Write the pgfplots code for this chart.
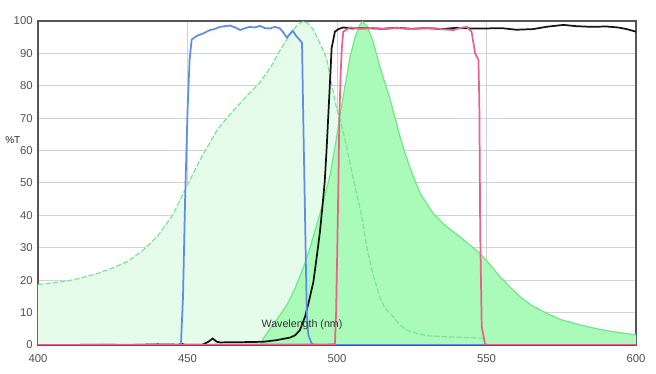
\documentclass[border=0pt]{standalone}
\usepackage{pgfplots}
\pgfplotsset{compat=1.18}
\usepackage{fontspec}
\setmainfont{Liberation Sans}
\definecolor{exfill}{RGB}{230,252,234}
\definecolor{exline}{RGB}{125,228,150}
\definecolor{emfill}{RGB}{170,250,186}
\definecolor{emline}{RGB}{112,230,135}
\definecolor{cblue}{RGB}{95,140,230}
\definecolor{cpink}{RGB}{232,98,140}
\definecolor{cblack}{RGB}{20,20,20}
\definecolor{frame}{RGB}{85,85,85}
\definecolor{ticktext}{RGB}{80,80,80}
\begin{document}
\begin{tikzpicture}
\path[use as bounding box] (-28.5pt,-21.75pt) rectangle (463.5pt,258.75pt);
\begin{axis}[
  at={(0,0)}, anchor=south west,
  scale only axis, width=448.5pt, height=243pt,
  xmin=400, xmax=600, ymin=0, ymax=100,
  xtick={400,450,500,550,600},
  ytick={0,10,...,100},
  major tick length=0pt,
  xmajorgrids, ymajorgrids,
  grid style={draw=black!18, line width=0.75pt},
  axis line style={draw=frame, line width=1.5pt},
  ticklabel style={font=\fontsize{8.5}{10}\selectfont, text=ticktext},
  /pgf/number format/assume math mode=true,
  yticklabel style={xshift=-0.5pt},
  xticklabel style={yshift=-3.5pt},
  clip=true,
]
% excitation fill
\addplot[fill=exfill, draw=none] coordinates {
(400,18.7) (405,19.2) (410,19.8) (415,20.8) (420,22.1) (425,23.8) (430,25.8) (435,29.1) (440,33.6) (445,40.0) (450,49.5) (455,58.5) (460,66.5) (465,72) (470,77) (474,80.8) (478,86) (481,91) (483,94) (485.4,97.2) (487,99) (488.7,99.8) (490,99.5) (492,97.5) (494.3,93.1) (496.5,88.5) (497.7,82.8) (500,72.5) (501,70) (503,62) (505.5,51) (508,41) (510,30) (512,22) (514.4,14.5) (516,11.5) (518.8,8.7) (521,6.3) (523.3,4.6) (527,3.5) (531,2.8) (540,2.4) (548.8,2.1)
} \closedcycle;
% emission fill
\addplot[fill=emfill, draw=none] coordinates {
(474.5,0) (475.4,2) (478,5.5) (480,8) (483.2,12.3) (486,17.5) (488.7,23.7) (491,30) (493.2,37) (495.5,44.5) (497.7,52.5) (499.5,62) (501,71) (502.7,80) (504.3,88.5) (506,95) (507.7,98.8) (508.5,99.8) (510,98.5) (512.1,93.6) (514,87) (516,81) (517.7,76) (521.1,64.3) (523,58.5) (525.5,52) (528,46.5) (532.2,40.6) (536,37) (541.1,33.4) (547.8,28.3) (551,25) (554.5,21.1) (558,17.8) (561.2,14.9) (565,12.3) (570.1,9.8) (575,7.8) (581.3,6.2) (587,5) (592.4,4.1) (600,3.1)
} \closedcycle;
% excitation line
\addplot[draw=exline, line width=0.9pt, dash pattern=on 4pt off 1.5pt] coordinates {
(400,18.7) (405,19.2) (410,19.8) (415,20.8) (420,22.1) (425,23.8) (430,25.8) (435,29.1) (440,33.6) (445,40.0) (450,49.5) (455,58.5) (460,66.5) (465,72) (470,77) (474,80.8) (478,86) (481,91) (483,94) (485.4,97.2) (487,99) (488.7,99.8) (490,99.5) (492,97.5) (494.3,93.1) (496.5,88.5) (497.7,82.8) (500,72.5) (501,70) (503,62) (505.5,51) (508,41) (510,30) (512,22) (514.4,14.5) (516,11.5) (518.8,8.7) (521,6.3) (523.3,4.6) (527,3.5) (531,2.8) (540,2.4) (548.8,2.1)
};
% emission line
\addplot[draw=emline, line width=0.9pt] coordinates {
(474.5,0) (475.4,2) (478,5.5) (480,8) (483.2,12.3) (486,17.5) (488.7,23.7) (491,30) (493.2,37) (495.5,44.5) (497.7,52.5) (499.5,62) (501,71) (502.7,80) (504.3,88.5) (506,95) (507.7,98.8) (508.5,99.8) (510,98.5) (512.1,93.6) (514,87) (516,81) (517.7,76) (521.1,64.3) (523,58.5) (525.5,52) (528,46.5) (532.2,40.6) (536,37) (541.1,33.4) (547.8,28.3) (551,25) (554.5,21.1) (558,17.8) (561.2,14.9) (565,12.3) (570.1,9.8) (575,7.8) (581.3,6.2) (587,5) (592.4,4.1) (600,3.1)
};
% black
\addplot[draw=cblack, line width=1.3pt] coordinates {
(400,0) (410,0) (420,0.1) (430,0) (440,0.2) (447,0.1) (448,0.4) (449,0.1) (455,0.1) (457,1) (458.4,2) (459.8,1) (461,0.8) (470,0.9) (475.4,1) (479.8,1.5) (484.3,2.3) (486,3) (487.6,4.6) (489.3,8.7) (490.5,13) (492.1,19.5) (493.2,27) (494.3,35) (495.1,42.5) (495.9,50.4) (496.5,60) (497.1,71) (497.7,82) (498.2,91.6) (499.3,96.7) (500.5,97.5) (502.1,98) (505,97.7) (510,97.8) (515,97.6) (520,97.9) (525,97.6) (530,97.8) (535,97.5) (540,97.9) (545,97.7) (550,97.7) (555,97.8) (560,97.3) (565.6,97.5) (570,98.2) (575.7,98.8) (580,98.4) (585,98.2) (590.2,98.3) (594,98) (596.9,97.5) (600,96.7)
};
% blue
\addplot[draw=cblue, line width=1.3pt] coordinates {
(400,0) (447.8,0) (448.5,15) (449.2,45) (450,72) (450.7,88) (451.4,94.3) (453.1,95.4) (455.3,96.2) (457.5,97.2) (459,97.5) (460.9,98.2) (462.5,98.4) (464.2,98.6) (466,98) (467.6,97.2) (469.3,97.8) (470.9,98.2) (472.5,98) (474.2,98.5) (475.9,97.8) (477.6,97.7) (479.3,98.2) (480.9,97.7) (482,96.5) (483.2,94.9) (485.2,97) (486.5,95.2) (487.6,94.1) (488.3,93.3) (488.7,71) (489.3,40) (489.9,9.3) (490.4,3.1) (491.5,0.5) (492.5,0) (600,0)
};
% pink
\addplot[draw=cpink, line width=1.3pt] coordinates {
(400,0) (499.3,0.2) (499.7,10) (500.1,30) (500.5,52) (500.8,71) (501.2,83) (501.6,91.6) (502.1,96.7) (504.4,98) (508,97.6) (512,97.9) (516,97.5) (520,97.9) (524,97.5) (527.8,97.7) (532,97.8) (536,97.4) (538.9,97.2) (541,97.8) (543.4,98.2) (545,96.7) (546.2,90) (547.3,88) (547.6,75) (547.9,34.5) (548.4,5.6) (549.5,0.3) (550.5,0) (600,0)
};
\node[font=\fontsize{8}{9}\selectfont, text=black!80] at (axis cs:488.3,6.2) {Wavelength (nm)};
\end{axis}
\node[anchor=east, font=\fontsize{7.5}{9}\selectfont, text=black!85] at (-9.75pt,153.5pt) {\%T};
\end{tikzpicture}
\end{document}
